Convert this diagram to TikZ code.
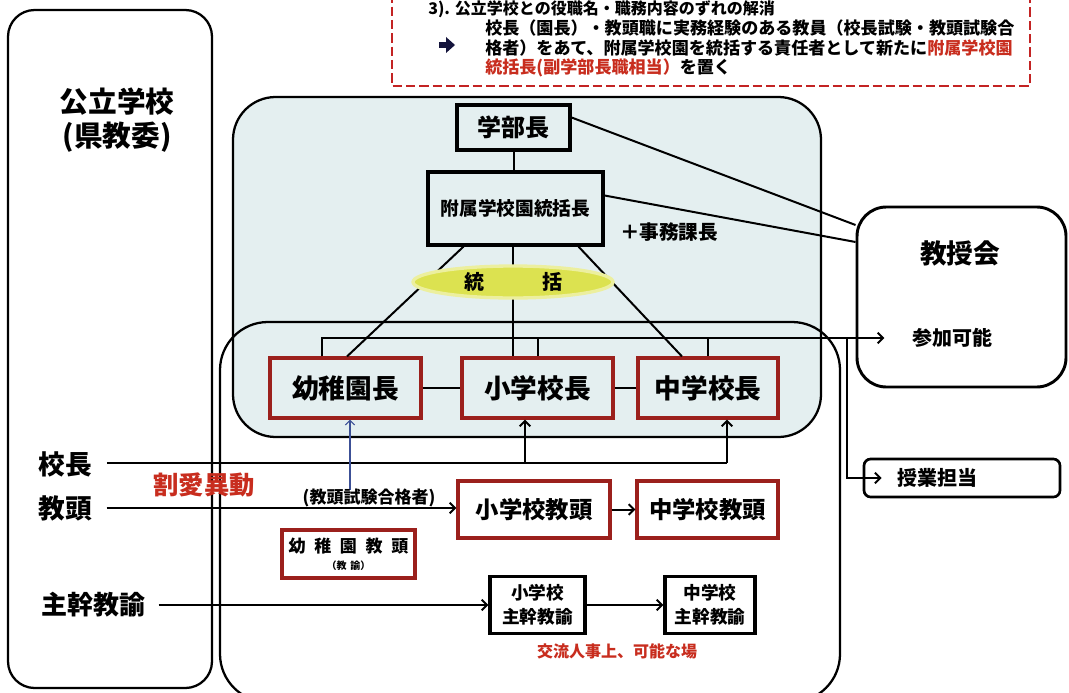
\documentclass[tikz,border=0pt]{standalone}
\usepackage{fontspec}
\setmainfont{Noto Sans CJK JP}
\usetikzlibrary{arrows.meta,calc,shapes.geometric}
\definecolor{lightbg}{RGB}{228,239,240}
\definecolor{ellfill}{RGB}{220,226,80}
\definecolor{boxred}{RGB}{155,32,28}
\definecolor{txtred}{RGB}{200,45,30}
\definecolor{lineblue}{RGB}{60,80,150}
\definecolor{dashred}{RGB}{195,35,35}
\definecolor{bulletc}{RGB}{20,20,60}
\newcommand{\jfs}[2]{\fontsize{#1pt}{#2pt}\selectfont}
\tikzset{
  frame/.style={draw=black, line width=1.7pt},
  blackbox/.style={draw=black, line width=2.4pt, inner sep=0pt, align=center, font=\bfseries},
  redbox/.style={draw=boxred, line width=2.3pt, inner sep=0pt, align=center, font=\bfseries},
  lbl/.style={inner sep=0pt, font=\bfseries},
  conn/.style={line width=1.5pt},
  arr/.style={conn, -{Straight Barb[length=4pt,width=8pt,line width=1.5pt]}},
  bluearr/.style={draw=lineblue, line width=0.9pt, -{Straight Barb[length=3.5pt,width=7pt,line width=0.9pt]}},
}
\begin{document}
\begin{tikzpicture}[x=0.75pt,y=-0.75pt]
\useasboundingbox (0,0) rectangle (1069,692);
\fill[white] (0,0) rectangle (1069,692);
\begin{scope}
\clip (0,0) rectangle (1069,692);

% --- top dashed note ---
\draw[dashred, line width=2.2pt, dash pattern=on 7pt off 3pt] (392,-20) rectangle (1030,86);
\node[lbl, anchor=west, font=\bfseries\jfs{12}{15}] (note0) at (428,9.5) {3). 公立学校との役職名・職務内容のずれの解消};
\fill[bulletc] (439,42) rectangle (447,48);
\fill[bulletc] (446,37) -- (455,45) -- (446,53) -- cycle;
\node[lbl, anchor=west, font=\bfseries\jfs{12.8}{15}] (note1) at (485,28) {校長（園長）・教頭職に実務経験のある教員（校長試験・教頭試験合};
\node[lbl, anchor=west, font=\bfseries\jfs{12.8}{15}] (note2) at (485,48) {格者）をあて、附属学校園を統括する責任者として新たに\textcolor{txtred}{附属学校園}};
\node[lbl, anchor=west, font=\bfseries\jfs{12.8}{15}] (note3) at (485,68) {\textcolor{txtred}{統括長(副学部長職相当）}を置く};

% --- left frame ---
\draw[frame, rounded corners=20pt] (8,10) rectangle (212,688);
\node[lbl, font=\bfseries\jfs{21.5}{26}] (pub) at (117,102) {公立学校};
\node[lbl, font=\bfseries\jfs{21.5}{26}] (pub2) at (117,137) {(県教委)};

% --- university frames ---
\draw[frame, fill=lightbg, rounded corners=32pt] (233,97) rectangle (821,437);
\draw[frame, rounded corners=36pt] (220,322) rectangle (840,702);

% --- faculty meeting ---
\node[draw, line width=2.2pt, rounded corners=22pt, minimum width=156.75pt, minimum height=135pt, inner sep=0pt] (kyoju) at (961.5,297) {};
\node[lbl, font=\bfseries\jfs{20}{24}] (kyojut) at (960,253) {教授会};
\node[lbl, font=\bfseries\jfs{15}{18}] (sanka) at (952,338) {参加可能};
\node[draw, line width=2pt, rounded corners=5pt, minimum width=147pt, minimum height=28.5pt, inner sep=0pt] (jugyo) at (962,478) {};
\node[lbl, font=\bfseries\jfs{15}{18}] (jugyot) at (937,478) {授業担当};

% --- top nodes ---
\node[blackbox, font=\bfseries\jfs{18}{22}, minimum width=84.75pt, minimum height=33.75pt] (gakubu) at (513.5,127.5) {学部長};
\node[blackbox, font=\bfseries\jfs{14}{17}, minimum width=131.25pt, minimum height=54.75pt] (tokatsu) at (515.5,208.5) {附属学校園統括長};
\node[lbl, font=\bfseries\jfs{14.7}{18}] (jimu) at (669,232) {＋事務課長};

% --- heads ---
\node[redbox, font=\bfseries\jfs{20}{24}, minimum width=113.25pt, minimum height=45pt] (youchi) at (345.5,388) {幼稚園長};
\node[redbox, font=\bfseries\jfs{20}{24}, minimum width=113.25pt, minimum height=45pt] (shou) at (537.5,388) {小学校長};
\node[redbox, font=\bfseries\jfs{20}{24}, minimum width=105pt, minimum height=45pt] (chuu) at (708,388) {中学校長};

% connectors top
\draw[conn] (gakubu.south) -- (gakubu.south |- tokatsu.north);
\draw[conn] ($(gakubu.east)+(0,-10)$) -- ($(kyoju.west)+(0,-72)$);
\draw[conn] ($(tokatsu.east)+(0,-13)$) -- ($(kyoju.west)+(0,-55)$);
\draw[conn] ($(tokatsu.south)+(-52,0)$) -- ($(youchi.north)+(1.5,0)$);
\draw[conn] ($(tokatsu.south)+(-2.5,0)$) -- ($(shou.north)+(-24.5,0)$);
\draw[conn] ($(tokatsu.south)+(63,0)$) -- ($(chuu.north)+(-26,0)$);

\node[ellipse, fill=ellfill, draw=ellfill!55!white, line width=2.5pt, minimum width=150pt, minimum height=24pt, inner sep=0pt, font=\bfseries\jfs{15}{18}] (ell) at (513,282) {統\hspace{43.5pt}括};

% participation bus
\coordinate (bus) at (322,338);
\coordinate (branch) at (847,338);
\draw[arr, shorten >=20.5pt] (youchi.north -| bus) -- (bus) -- (bus -| sanka.west);
\draw[conn] (shou.north) -- (shou.north |- bus);
\draw[conn] (chuu.north) -- (chuu.north |- bus);
\draw[arr] (branch) |- ($(jugyo.west)+(19,0)$);
\draw[conn] (youchi.east) -- (shou.west);
\draw[conn] (shou.east) -- (chuu.west);

% --- principal ---
\node[lbl, font=\bfseries\jfs{20}{24}] (kocho) at (65,464) {校長};
\coordinate (k1) at (525,463);
\coordinate (k2) at (727,463);
\draw[conn] ($(kocho.east)+(15,-1)$) -- (k2);
\draw[arr] (k1) -- (k1 |- shou.south);
\draw[arr] (k2) -- (k2 |- chuu.south);
\coordinate (b1) at (350,490);
\draw[bluearr] (b1) -- (b1 |- youchi.south);

\node[lbl, text=txtred, font=\bfseries\jfs{19}{23}] (katsuai) at (204,485) {割愛異動};

% --- vice principal ---
\node[lbl, font=\bfseries\jfs{20}{24}] (kyoto) at (65,508) {教頭};
\node[redbox, font=\bfseries\jfs{17.5}{21}, minimum width=114pt, minimum height=42.75pt] (shokyo) at (534,509.5) {小学校教頭};
\node[redbox, font=\bfseries\jfs{17.5}{21}, minimum width=105.75pt, minimum height=42.75pt] (chukyo) at (707.5,509.5) {中学校教頭};
\draw[arr, shorten <=11pt] (kyoto.east) -- (kyoto.east -| shokyo.west);
\draw[arr] (shokyo.east) -- (chukyo.west);
\node[lbl, font=\bfseries\jfs{12.75}{15}] (gokaku) at (369,498) {(教頭試験合格者)};

\node[redbox, minimum width=99.75pt, minimum height=36pt] (youkyo) at (348.5,554) {\jfs{12.75}{14}幼\hspace{6.5pt}稚\hspace{6.5pt}園\hspace{6.5pt}教\hspace{6.5pt}頭\\[1pt]\jfs{7.5}{9}（教\hspace{3pt}諭）};

% --- chief teacher ---
\node[lbl, font=\bfseries\jfs{19.5}{24}] (shukan) at (93,605) {主幹教諭};
\node[blackbox, font=\bfseries\jfs{13.25}{18}, minimum width=71.25pt, minimum height=42.75pt] (shoshu) at (537.5,605) {小学校\\主幹教諭};
\node[blackbox, font=\bfseries\jfs{13.25}{18}, minimum width=67.5pt, minimum height=42.75pt] (chushu) at (710,605) {中学校\\主幹教諭};
\draw[arr, shorten <=10pt] (shukan.east) -- (shukan.east -| shoshu.west);
\draw[arr] (shoshu.east) -- (chushu.west);

\node[lbl, text=txtred, font=\bfseries\jfs{12}{15}] (koryu) at (617,651) {交流人事上、可能な場};
\end{scope}
\end{tikzpicture}
\end{document}
